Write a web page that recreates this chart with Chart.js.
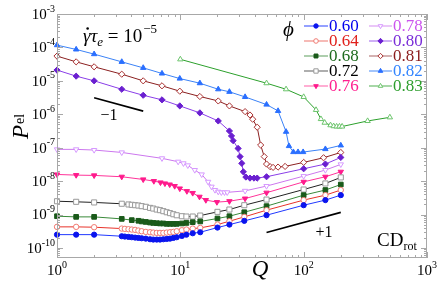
<!DOCTYPE html>
<html lang="en">
<head>
<meta charset="UTF-8">
<title>P_el vs Q</title>
<script src="https://cdn.jsdelivr.net/npm/chart.js"></script>
<style>
  body { margin: 0; background: #fff; }
  #wrap { width: 443px; height: 290px; }
</style>
</head>
<body>
<div id="wrap"><canvas id="chart"></canvas></div>
<script>
// values: Q and P_el for each packing fraction phi
var phiLabels = ['0.60', '0.64', '0.68', '0.72', '0.76', '0.78', '0.80', '0.81', '0.82', '0.83'];

var q60 = [1, 1.43, 2, 3.35, 3.55, 3.8, 4.04, 4.3, 4.57, 4.86, 5.25, 5.68, 6.03, 6.44, 6.84, 7.28, 7.76, 8.25, 8.78, 9.35, 10.3, 11.2, 12.6, 14.5, 20, 25, 33, 50, 100, 150, 200];
var p60 = [2.5e-10, 2.5e-10, 2.5e-10, 2.24e-10, 2.19e-10, 2.14e-10, 2.09e-10, 2.04e-10, 2.0e-10, 1.95e-10, 1.9e-10, 1.82e-10, 1.78e-10, 1.78e-10, 1.78e-10, 1.82e-10, 1.86e-10, 1.9e-10, 2.0e-10, 2.09e-10, 2.29e-10, 2.5e-10, 2.75e-10, 2.95e-10, 4.07e-10, 5.0e-10, 6.46e-10, 9.55e-10, 1.9e-9, 2.7e-9, 3.8e-9];

var q64 = q60;
var p64 = [4.27e-10, 4.27e-10, 4.17e-10, 3.8e-10, 3.72e-10, 3.63e-10, 3.55e-10, 3.47e-10, 3.31e-10, 3.16e-10, 3.02e-10, 2.95e-10, 2.88e-10, 2.82e-10, 2.82e-10, 2.82e-10, 2.88e-10, 2.95e-10, 3.02e-10, 3.16e-10, 3.39e-10, 3.55e-10, 3.8e-10, 3.98e-10, 5.0e-10, 6.3e-10, 8.5e-10, 1.35e-9, 2.7e-9, 3.8e-9, 5.4e-9];

var q68 = [1, 1.43, 2, 3.35, 4.04, 4.57, 4.86, 5.25, 5.68, 6.03, 6.44, 6.84, 7.28, 7.76, 8.25, 8.78, 9.35, 10.3, 11.2, 12.6, 14.5, 20, 25, 33, 50, 100, 150, 200];
var p68 = [8.9e-10, 8.5e-10, 8.5e-10, 7.4e-10, 6.8e-10, 6.5e-10, 6.2e-10, 6.0e-10, 5.75e-10, 5.6e-10, 5.5e-10, 5.4e-10, 5.4e-10, 5.25e-10, 5.25e-10, 5.25e-10, 5.25e-10, 5.4e-10, 5.6e-10, 5.9e-10, 6.2e-10, 7.6e-10, 8.9e-10, 1.17e-9, 1.78e-9, 3.8e-9, 5.4e-9, 7.9e-9];

var q72 = [1, 1.43, 2, 3.35, 3.8, 4.04, 4.3, 4.57, 4.86, 5.25, 5.68, 6.03, 6.44, 6.84, 7.28, 7.76, 8.25, 8.78, 9.35, 10.3, 11.2, 12.6, 14.5, 20, 25, 33, 50, 100, 150, 200];
var p72 = [2.5e-9, 2.4e-9, 2.3e-9, 2.1e-9, 2.0e-9, 1.95e-9, 1.9e-9, 1.86e-9, 1.78e-9, 1.7e-9, 1.58e-9, 1.51e-9, 1.41e-9, 1.35e-9, 1.26e-9, 1.17e-9, 1.1e-9, 1.02e-9, 9.5e-10, 8.9e-10, 8.7e-10, 8.7e-10, 9.3e-10, 1.2e-9, 1.41e-9, 1.9e-9, 2.8e-9, 5.6e-9, 8.5e-9, 1.29e-8];

var q76 = [1, 1.43, 2, 3.35, 5, 6.1, 6.9, 7.5, 8.2, 9, 9.9, 11.3, 12.6, 14.3, 16.1, 19.8, 25, 33.5, 50, 100, 150, 200];
var p76 = [1.58e-8, 1.51e-8, 1.48e-8, 1.35e-8, 1.12e-8, 1.0e-8, 9.1e-9, 8.5e-9, 7.9e-9, 7.1e-9, 6.0e-9, 5.0e-9, 4.4e-9, 3.4e-9, 2.7e-9, 2.35e-9, 2.5e-9, 3.0e-9, 4.5e-9, 9.5e-9, 1.35e-8, 1.9e-8];

var q78 = [1, 1.43, 2, 3.35, 7.1, 9.6, 10.6, 11.5, 13.1, 14.9, 16.8, 17.9, 19.1, 20.3, 21.5, 22.8, 24, 33.5, 50, 100, 150, 200];
var p78 = [8.9e-8, 8.9e-8, 8.5e-8, 7.2e-8, 4.8e-8, 3.8e-8, 3.4e-8, 2.95e-8, 2.14e-8, 1.58e-8, 9.5e-9, 6.8e-9, 5.4e-9, 4.8e-9, 4.6e-9, 4.6e-9, 4.6e-9, 5.1e-9, 7.1e-9, 1.41e-8, 2.14e-8, 3.16e-8];

var q80 = [1, 1.43, 2, 3.35, 5, 7.1, 9.9, 14.4, 20.3, 25, 26, 26.8, 29.4, 30.5, 31.5, 32.4, 34, 36.7, 39.6, 42, 50, 100, 150, 200];
var p80 = [2.1e-5, 1.38e-5, 1.0e-5, 5.6e-6, 3.7e-6, 2.7e-6, 1.78e-6, 1.1e-6, 6.3e-7, 3.16e-7, 2.24e-7, 1.62e-7, 9.5e-8, 5.4e-8, 3.4e-8, 1.9e-8, 1.32e-8, 1.23e-8, 1.23e-8, 1.23e-8, 1.35e-8, 2.34e-8, 3.24e-8, 5.1e-8];

var q81 = [1, 1.43, 2, 3.35, 5, 7.1, 9.9, 14.4, 20.3, 25, 33.5, 36.7, 38.6, 42, 44.8, 47.9, 50, 53.5, 56.5, 62, 70.7, 100, 145, 200];
var p81 = [5.5e-5, 3.7e-5, 2.63e-5, 1.58e-5, 1.0e-5, 7.1e-6, 4.9e-6, 3.4e-6, 2.5e-6, 1.78e-6, 1.2e-6, 9.5e-7, 7.1e-7, 4.1e-7, 1.2e-7, 5.4e-8, 3.24e-8, 2.7e-8, 2.57e-8, 2.63e-8, 2.75e-8, 3.63e-8, 5.0e-8, 7.2e-8];

var q82 = [1, 1.43, 2, 3.35, 5, 7.1, 9.9, 14.4, 20.3, 25, 33.5, 50, 62, 72, 76, 82.5, 90, 99, 150, 200];
var p82 = [1.17e-4, 8.7e-5, 6.3e-5, 3.7e-5, 2.45e-5, 1.66e-5, 1.17e-5, 8.5e-6, 5.6e-6, 4.7e-6, 3.3e-6, 1.95e-6, 1.26e-6, 3.0e-7, 1.12e-7, 7.4e-8, 7.4e-8, 7.4e-8, 9.1e-8, 1.17e-7];

var q83 = [10, 50, 72, 100, 126, 138, 148, 165, 175, 185, 195, 205, 330, 500];
var p83 = [4.4e-5, 8.5e-6, 5.6e-6, 3.3e-6, 1.35e-6, 7.2e-7, 5.6e-7, 4.7e-7, 4.4e-7, 4.3e-7, 4.3e-7, 4.3e-7, 6.3e-7, 8.1e-7];

// guide slopes -1 and +1
var slopeNegQ = [2, 5];
var slopeNegP = [3.1e-6, 1.24e-6];
var slopePosQ = [50, 200];
var slopePosP = [2.9e-10, 1.16e-9];

var xTicks = [1, 10, 100, 1000];
var yTickExp = [-3, -4, -5, -6, -7, -8, -9, -10];

var seriesQ = [q60, q64, q68, q72, q76, q78, q80, q81, q82, q83];
var seriesP = [p60, p64, p68, p72, p76, p78, p80, p81, p82, p83];

// look of each series
var looks = [
  { line: '#2038ff', marker: '#0a14ee', fill: '#0a14ee', style: 'circle', r: 2.6, rot: 0, text: '#0000ee', leg: 'rgba(32,56,255,0.8)' },
  { line: '#e8332a', marker: '#f07a72', fill: '#fff', style: 'circle', r: 2.7, rot: 0, text: '#e0201b', leg: 'rgba(232,90,80,0.7)' },
  { line: '#3a8a3a', marker: '#1a5a1a', fill: '#1a5a1a', style: 'rect', r: 3.3, rot: 0, text: '#1e6b1e', leg: 'rgba(58,138,58,0.7)' },
  { line: '#222222', marker: '#999999', fill: '#fff', style: 'rect', r: 3.6, rot: 0, text: '#000000', leg: 'rgba(60,60,60,0.7)' },
  { line: '#ff3399', marker: '#ff1a8c', fill: '#ff1a8c', style: 'triangle', r: 3.1, rot: 180, text: '#ff1f8f', leg: 'rgba(255,60,150,0.7)' },
  { line: '#cc77ee', marker: '#d699ff', fill: '#fff', style: 'triangle', r: 3.1, rot: 180, text: '#cc55ee', leg: 'rgba(204,119,238,0.7)' },
  { line: '#8a3ee8', marker: '#6a1fd0', fill: '#6a1fd0', style: 'rectRot', r: 3.1, rot: 0, text: '#7a2ed8', leg: 'rgba(138,62,232,0.7)' },
  { line: '#8b2020', marker: '#a83030', fill: '#fff', style: 'rectRot', r: 3.1, rot: 0, text: '#8b1c1c', leg: 'rgba(139,40,40,0.6)' },
  { line: '#3b82f6', marker: '#2a6fff', fill: '#2a6fff', style: 'triangle', r: 3.1, rot: 0, text: '#3385ff', leg: 'rgba(59,130,246,0.8)' },
  { line: '#2ca02c', marker: '#6cc46c', fill: '#fff', style: 'triangle', r: 3.1, rot: 0, text: '#2e9e2e', leg: 'rgba(44,160,44,0.7)' }
];

var serif = '"Liberation Serif", "DejaVu Serif", serif';

function pairs(q, p) {
  return q.map(function (v, i) { return { x: v, y: p[i] }; });
}

var datasets = phiLabels.map(function (lab, i) {
  var lk = looks[i];
  return {
    label: lab,
    data: pairs(seriesQ[i], seriesP[i]),
    borderColor: lk.line,
    borderWidth: 1,
    pointStyle: lk.style,
    pointRotation: lk.rot,
    pointRadius: lk.r,
    pointBorderWidth: 1,
    pointBorderColor: lk.marker,
    pointBackgroundColor: lk.fill,
    tension: 0,
    clip: false
  };
});
datasets.push({ label: 'slope -1', data: pairs(slopeNegQ, slopeNegP), borderColor: '#000', borderWidth: 1.6, pointRadius: 0, clip: false });
datasets.push({ label: 'slope +1', data: pairs(slopePosQ, slopePosP), borderColor: '#000', borderWidth: 1.6, pointRadius: 0, clip: false });

function drawPow(ctx, exp, x, y, align) {
  ctx.font = '15px ' + serif;
  var w1 = ctx.measureText('10').width;
  ctx.font = '10px ' + serif;
  var w2 = ctx.measureText(String(exp)).width;
  var start = align === 'right' ? x - w1 - w2 : x - (w1 + w2) / 2;
  ctx.textAlign = 'left';
  ctx.textBaseline = 'middle';
  ctx.font = '15px ' + serif;
  ctx.fillText('10', start, y);
  ctx.font = '10px ' + serif;
  ctx.fillText(String(exp), start + w1, y - 6);
}

var framePlugin = {
  id: 'frame',
  afterDraw: function (chart) {
    var ctx = chart.ctx, a = chart.chartArea;
    var xs = chart.scales.x, ys = chart.scales.y;
    ctx.save();
    ctx.strokeStyle = '#a8a8a8';
    ctx.lineWidth = 1;
    ctx.strokeRect(a.left + 0.5, a.top + 0.5, a.right - a.left - 1, a.bottom - a.top - 1);
    ctx.beginPath();
    for (var d = 0; d <= 3; d++) {
      for (var m = 1; m <= 9; m++) {
        var v = m * Math.pow(10, d);
        if (v > 1000) break;
        var px = Math.round(xs.getPixelForValue(v)) + 0.5;
        var len = m === 1 ? 6 : 3;
        ctx.moveTo(px, a.bottom); ctx.lineTo(px, a.bottom - len);
        ctx.moveTo(px, a.top); ctx.lineTo(px, a.top + len);
      }
    }
    for (var e = -11; e <= -3; e++) {
      for (var k = 1; k <= 9; k++) {
        var val = k * Math.pow(10, e);
        if (val < ys.min || val > ys.max * 1.0001) continue;
        var py = Math.round(ys.getPixelForValue(val)) + 0.5;
        var l2 = k === 1 ? 6 : 3;
        ctx.moveTo(a.left, py); ctx.lineTo(a.left + l2, py);
        ctx.moveTo(a.right, py); ctx.lineTo(a.right - l2, py);
      }
    }
    ctx.stroke();

    ctx.fillStyle = '#000';
    xTicks.forEach(function (t) {
      drawPow(ctx, Math.round(Math.log10(t)), xs.getPixelForValue(t), 271.5, 'center');
    });
    yTickExp.forEach(function (e) {
      drawPow(ctx, e, 55, ys.getPixelForValue(Math.pow(10, e)) + 1, 'right');
    });

    // axis titles
    ctx.textAlign = 'left';
    ctx.textBaseline = 'alphabetic';
    ctx.save();
    ctx.translate(28, 139);
    ctx.rotate(-Math.PI / 2);
    ctx.font = 'italic 23px ' + serif;
    ctx.fillText('P', 0, 0);
    var wp = ctx.measureText('P').width;
    ctx.font = '14px ' + serif;
    ctx.fillText('el', wp + 1, -4);
    ctx.restore();

    ctx.font = 'italic 23px ' + serif;
    ctx.textAlign = 'center';
    ctx.textBaseline = 'middle';
    ctx.fillText('Q', 260, 270);

    // shear rate label
    ctx.textAlign = 'left';
    ctx.textBaseline = 'alphabetic';
    var x = 83, base = 42;
    ctx.font = 'italic 19px ' + serif;
    ctx.fillText('\u03B3', x, base);
    var wg = ctx.measureText('\u03B3').width;
    ctx.beginPath();
    ctx.arc(x + wg * 0.62, 28.5, 1.3, 0, Math.PI * 2);
    ctx.fill();
    x += wg;
    ctx.fillText('\u03C4', x, base);
    x += ctx.measureText('\u03C4').width;
    ctx.font = 'italic 13px ' + serif;
    ctx.fillText('e', x, base + 4);
    x += ctx.measureText('e').width;
    ctx.font = '19px ' + serif;
    ctx.fillText(' = 10', x, base);
    x += ctx.measureText(' = 10').width;
    ctx.font = '13px ' + serif;
    ctx.fillText('\u22125', x + 1, base - 9);

    // slope labels and model name
    ctx.font = '16px ' + serif;
    ctx.textAlign = 'center';
    ctx.textBaseline = 'middle';
    ctx.fillText('\u22121', 109, 116);
    ctx.fillText('+1', 324, 233);
    ctx.textAlign = 'left';
    ctx.textBaseline = 'alphabetic';
    ctx.font = '19px ' + serif;
    ctx.fillText('CD', 377, 246);
    var wc = ctx.measureText('CD').width;
    ctx.font = '12px ' + serif;
    ctx.fillText('rot', 377 + wc, 250);

    // legend table
    ctx.font = 'italic 21px ' + serif;
    ctx.textBaseline = 'middle';
    ctx.fillText('\u03D5', 283, 30);
    phiLabels.forEach(function (lab, i) {
      var lk = looks[i];
      var col = i < 5 ? 0 : 1, row = i % 5;
      var y = 26 + row * 15;
      var x0 = col ? 369 : 304, x1 = col ? 392 : 328;
      ctx.strokeStyle = lk.leg;
      ctx.lineWidth = 1.2;
      ctx.beginPath(); ctx.moveTo(x0, y); ctx.lineTo(x1, y); ctx.stroke();
      ctx.fillStyle = lk.fill;
      ctx.strokeStyle = lk.marker;
      ctx.lineWidth = 1;
      Chart.helpers.drawPoint(ctx, { pointStyle: lk.style, radius: lk.r * 0.85, rotation: lk.rot, borderWidth: 1 }, (x0 + x1) / 2, y);
      ctx.fillStyle = lk.text;
      ctx.font = '17px ' + serif;
      ctx.fillText(lab, x1 + 1, y + 1);
    });
    ctx.restore();
  }
};

new Chart(document.getElementById('chart').getContext('2d'), {
  type: 'line',
  data: { datasets: datasets },
  options: {
    responsive: true,
    maintainAspectRatio: false,
    animation: false,
    layout: { padding: { left: 57, right: 16, top: 14, bottom: 32 } },
    plugins: { legend: { display: false }, tooltip: { enabled: false } },
    scales: {
      x: { type: 'logarithmic', min: 1, max: 1000, display: false },
      y: { type: 'logarithmic', min: 5e-11, max: 1e-3, display: false }
    }
  },
  plugins: [framePlugin]
});
</script>
</body>
</html>
